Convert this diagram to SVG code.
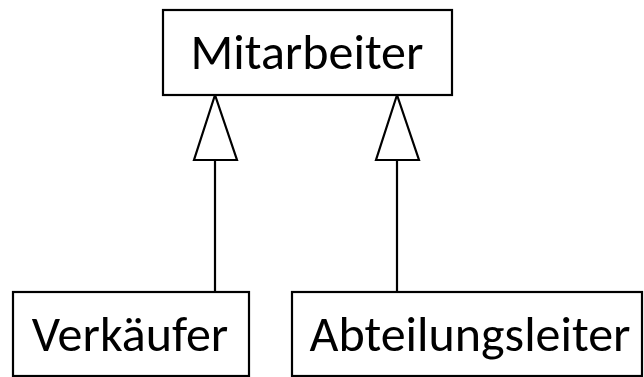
<svg xmlns="http://www.w3.org/2000/svg" width="644" height="377" viewBox="0 0 644 377">
<style>
.box{fill:#fff;stroke:#000;stroke-width:2.2}
.lbl{font-family:Carlito,Calibri,"Open Sans",sans-serif;font-size:50px;fill:#000;text-anchor:middle}
.conn{stroke:#000;stroke-width:2.2;fill:none}
.tri{fill:#fff;stroke:#000;stroke-width:2.2;stroke-linejoin:miter}
</style>
<rect width="644" height="377" fill="#fff"/>
<g id="connectors">
<line class="conn" x1="215" y1="160" x2="215" y2="292"/>
<polygon class="tri" points="215,95 194,160 237,160"/>
<line class="conn" x1="397" y1="160" x2="397" y2="292"/>
<polygon class="tri" points="397,95 376,160 419,160"/>
</g>
<g id="mitarbeiter">
<rect class="box" x="163" y="10" width="289" height="85"/>
<text class="lbl" x="307" y="68.5">Mitarbeiter</text>
</g>
<g id="verkaeufer">
<rect class="box" x="13" y="292" width="236" height="84"/>
<text class="lbl" x="130" y="351">Verkäufer</text>
</g>
<g id="abteilungsleiter">
<rect class="box" x="292" y="292" width="350" height="84"/>
<text class="lbl" x="470" y="351">Abteilungsleiter</text>
</g>
</svg>
